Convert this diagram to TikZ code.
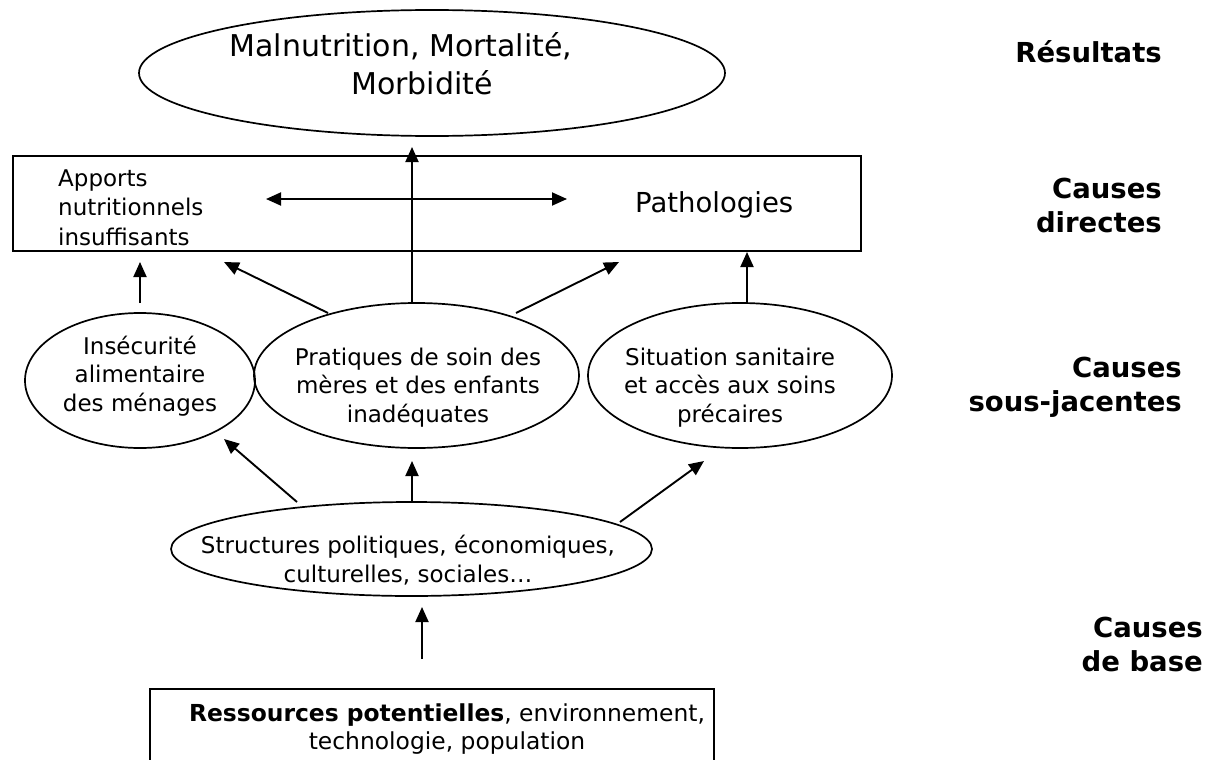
\documentclass[tikz,border=0pt]{standalone}
\usepackage{fontspec}
\setmainfont{DejaVu Sans}
\usetikzlibrary{shapes.geometric, arrows.meta}
\tikzset{
  outl/.style={draw, line width=1.7pt, inner sep=0pt},
  oval/.style={outl, ellipse},
  arr/.style={-{Triangle[length=15pt,width=13pt]}, line width=1.9pt},
  arrboth/.style={{Triangle[length=15pt,width=13pt]}-{Triangle[length=15pt,width=13pt]}, line width=1.9pt},
  txt/.style={font=\fontsize{23}{28.5}\selectfont, align=center, inner sep=0pt, anchor=base},
  lbl/.style={font=\bfseries\fontsize{27.5}{34}\selectfont, align=right, inner sep=0pt, anchor=base east}
}
\begin{document}
\begin{tikzpicture}[x=1pt,y=-1pt]
\useasboundingbox (0,0) rectangle (1215,760);

% shapes
\node[oval, minimum width=586pt, minimum height=126pt] (res) at (432,73) {};
\node[outl, rectangle, minimum width=848pt, minimum height=95pt] (direct) at (437,203.5) {};
\node[oval, minimum width=230pt, minimum height=135pt] (insec) at (140,380.5) {};
\node[oval, minimum width=325pt, minimum height=145pt] (prat) at (416.5,375.5) {};
\node[oval, minimum width=304pt, minimum height=145pt] (sit) at (740,375.5) {};
\node[oval, minimum width=481pt, minimum height=94pt] (struct) at (411.5,549) {};
\node[outl, rectangle, minimum width=564pt, minimum height=91pt] (ress) at (432,734.5) {};

% texts (base anchor = baseline of the last line)
\node[font=\fontsize{30}{37}\selectfont, align=center, inner sep=0pt, anchor=base] (restxt) at (401,94) {Malnutrition, Mortalité,\\\hspace*{42pt}Morbidité};
\node[font=\fontsize{23}{29.5}\selectfont, align=left, inner sep=0pt, anchor=base west] (apptxt) at (58,245) {Apports\\nutritionnels\\insuffisants};
\node[font=\fontsize{27.5}{33}\selectfont, inner sep=0pt, anchor=base west] (pathtxt) at (635,212) {Pathologies};
\node[txt] (insectxt) at (140,411) {Insécurité\\alimentaire\\des ménages};
\node[txt] (prattxt) at (418,422) {Pratiques de soin des\\mères et des enfants\\inadéquates};
\node[txt] (sittxt) at (730,422) {Situation sanitaire\\et accès aux soins\\précaires};
\node[txt, font=\fontsize{23}{29}\selectfont] (structtxt) at (408,582) {Structures politiques, économiques,\\culturelles, sociales…};
\node[txt, font=\fontsize{23.4}{28}\selectfont] (resstxt) at (447,749) {\textbf{Ressources potentielles}, environnement,\\technologie, population};

% level labels
\node[lbl] (l1) at (1162,63) {Résultats};
\node[lbl] (l2) at (1162,232) {Causes\\directes};
\node[lbl] (l3) at (1182,411) {Causes\\sous-jacentes};
\node[lbl] (l4) at (1203,671) {Causes\\de base};

% arrow end points
\coordinate (pratTop) at (412,303);
\coordinate (resIn) at (412,147);
\coordinate (dL) at (266,199);
\coordinate (dR) at (567,199);
\coordinate (insecTop) at (140,303);
\coordinate (appIn) at (140,262);
\coordinate (pratL) at (328,313);
\coordinate (appIn2) at (224,262);
\coordinate (pratR) at (516,313);
\coordinate (pathIn) at (619,262);
\coordinate (sitTop) at (747,303);
\coordinate (pathIn2) at (747,252);
\coordinate (structL) at (297,502);
\coordinate (insecIn) at (224,439);
\coordinate (structTop) at (412,502);
\coordinate (pratIn) at (412,461);
\coordinate (structR) at (620,522);
\coordinate (sitIn) at (704,461);
\coordinate (ressTop) at (422,659);
\coordinate (structIn) at (422,607);

% connectors
\draw[arr] (pratTop) -- (resIn);
\draw[arrboth] (dL) -- (dR);
\draw[arr] (insecTop) -- (appIn);
\draw[arr] (pratL) -- (appIn2);
\draw[arr] (pratR) -- (pathIn);
\draw[arr] (sitTop) -- (pathIn2);
\draw[arr] (structL) -- (insecIn);
\draw[arr] (structTop) -- (pratIn);
\draw[arr] (structR) -- (sitIn);
\draw[arr] (ressTop) -- (structIn);
\end{tikzpicture}
\end{document}
